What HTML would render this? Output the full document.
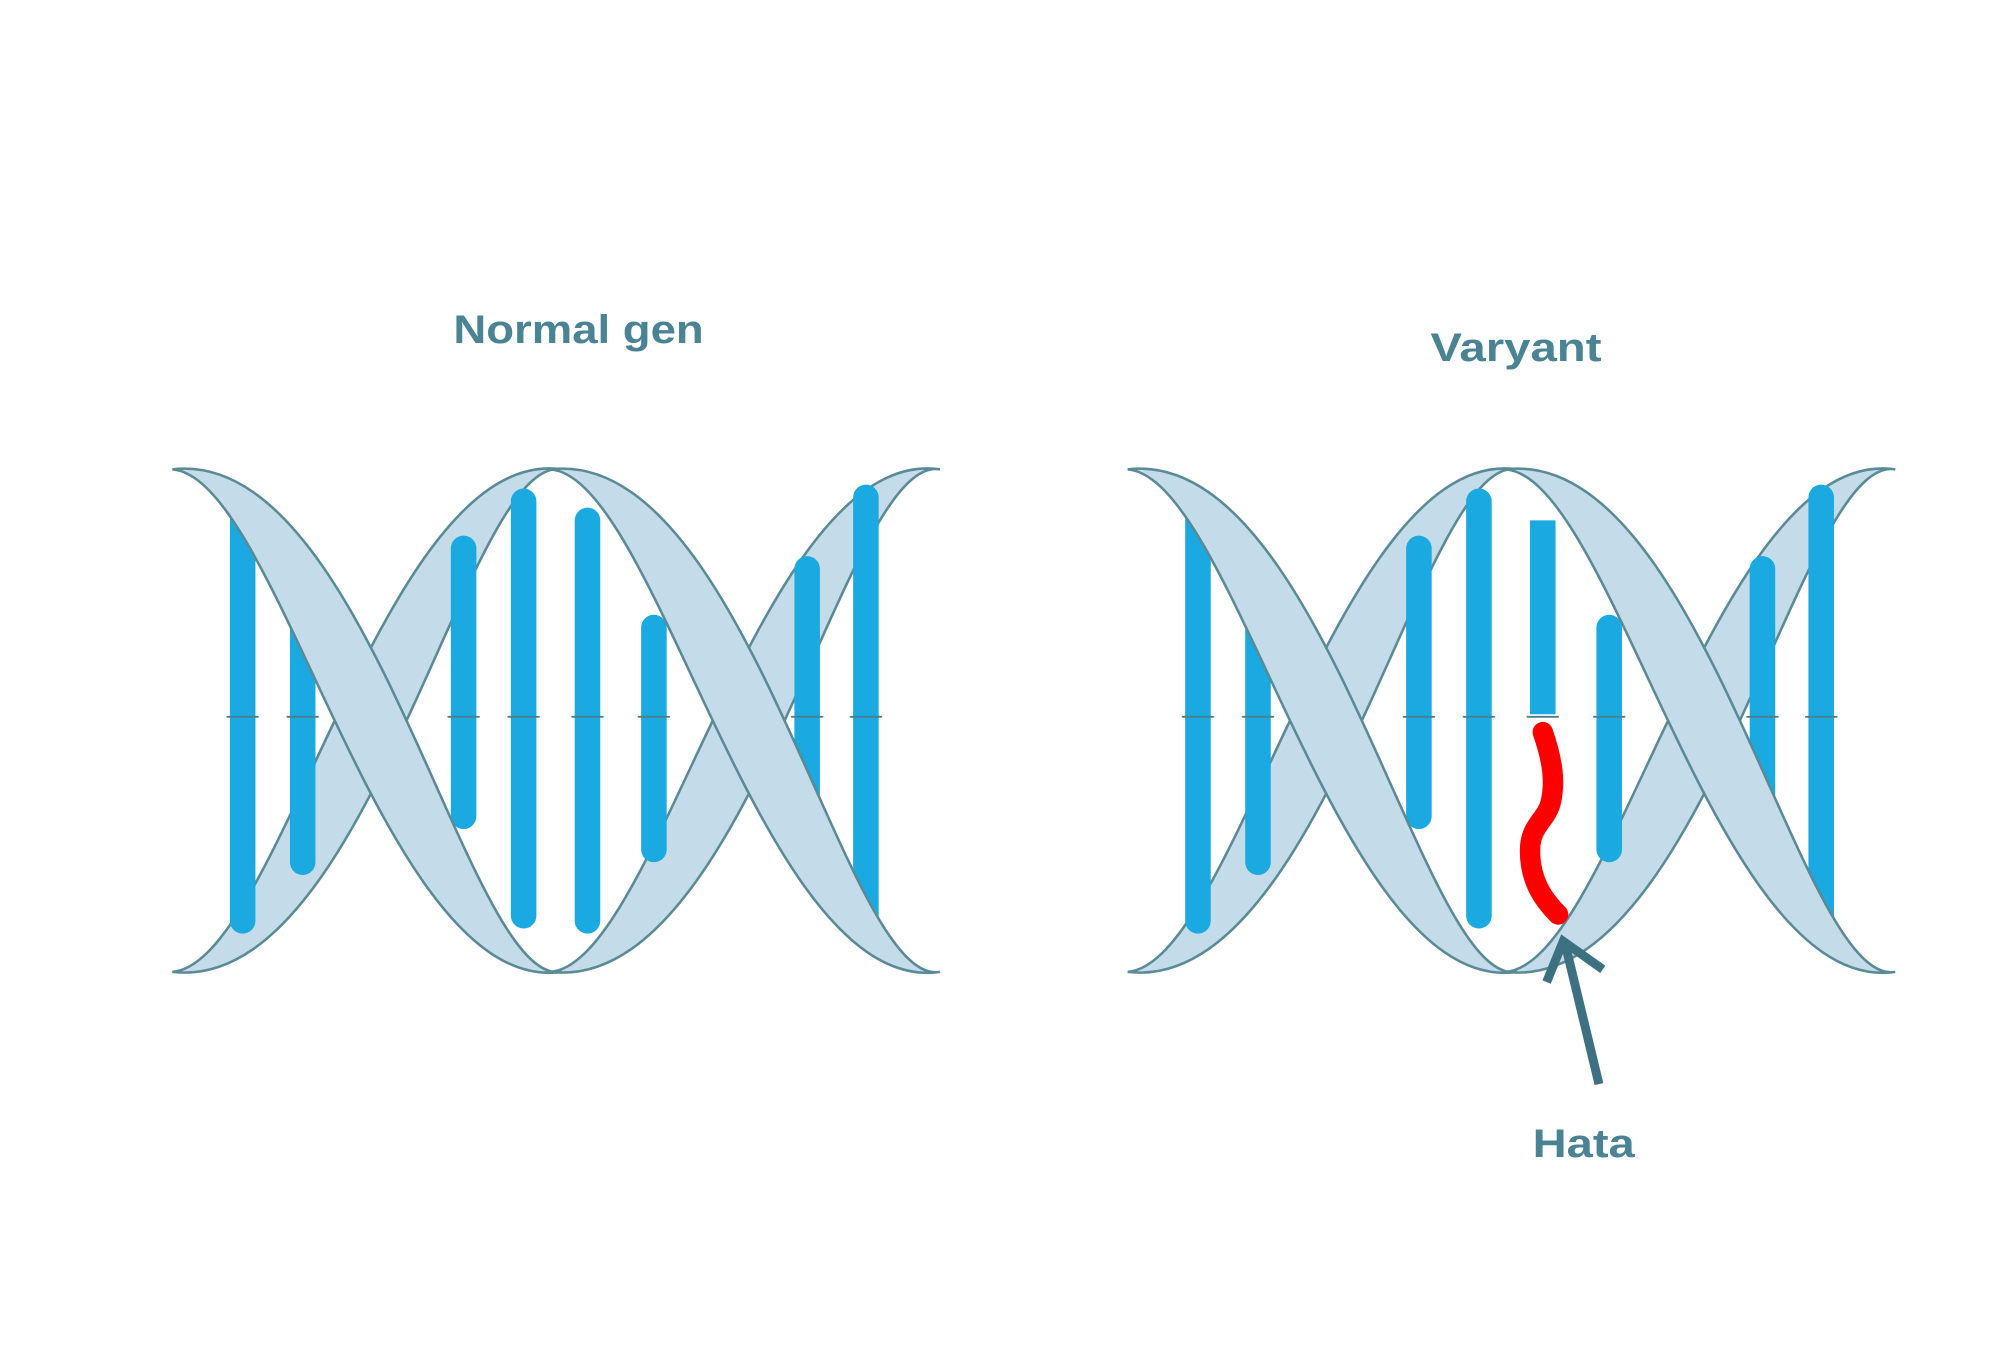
<!DOCTYPE html>
<html><head><meta charset="utf-8"><style>html,body{margin:0;padding:0;background:#fff}svg{display:block}</style></head>
<body>
<svg width="2000" height="1366" viewBox="0 0 1566 1071" preserveAspectRatio="none" xmlns="http://www.w3.org/2000/svg">
<rect width="1566" height="1071" fill="#fff"/>
<defs>
<path id="rib" d="M135,368 C290,350 365,775 440,762 C300,782 220,375 135,368 Z"/>
<g id="desc">
  <use href="#rib" fill="#c4dbea" stroke="#5a8a95" stroke-width="2"/>
  <use href="#rib" transform="translate(296,0)" fill="#c4dbea" stroke="#5a8a95" stroke-width="2"/>
</g>
<g id="asc" transform="translate(0,1130) scale(1,-1)">
  <use href="#desc"/>
</g>
<g id="ticks" stroke="#4d7f8a" stroke-width="1.5">
<line x1="178" y1="562" x2="202" y2="562"/><line x1="225" y1="562" x2="249" y2="562"/>
<line x1="351" y1="562" x2="375" y2="562"/><line x1="398" y1="562" x2="422" y2="562"/>
<line x1="448" y1="562" x2="472" y2="562"/><line x1="500" y1="562" x2="524" y2="562"/>
<line x1="620" y1="562" x2="644" y2="562"/><line x1="666" y1="562" x2="690" y2="562"/>
</g>
</defs>
<g stroke-linecap="round">
<use href="#asc"/>
<g stroke="#1aa9e0" stroke-width="20">
<line x1="190" y1="400" x2="190" y2="722"/><line x1="237" y1="475" x2="237" y2="676"/>
<line x1="363" y1="430" x2="363" y2="640"/><line x1="410" y1="393" x2="410" y2="718"/>
<line x1="460" y1="408" x2="460" y2="722"/><line x1="512" y1="492" x2="512" y2="666"/>
<line x1="632" y1="446" x2="632" y2="652"/><line x1="678" y1="390" x2="678" y2="718"/>
</g>
<use href="#ticks"/>
<use href="#desc"/>
<g transform="translate(748,0)">
<use href="#asc"/>
<g stroke="#1aa9e0" stroke-width="20">
<line x1="190" y1="400" x2="190" y2="722"/><line x1="237" y1="475" x2="237" y2="676"/>
<line x1="363" y1="430" x2="363" y2="640"/><line x1="410" y1="393" x2="410" y2="718"/>
<line x1="460" y1="408" x2="460" y2="560" stroke-linecap="butt"/><line x1="512" y1="492" x2="512" y2="666"/>
<line x1="632" y1="446" x2="632" y2="652"/><line x1="678" y1="390" x2="678" y2="718"/>
</g>
<use href="#ticks"/>
<use href="#desc"/>
</g>
<path d="M1208,574 C1216,597 1218,614 1214,630 C1210,644 1198,647 1198,667 C1198,692 1210,707 1220,717" fill="none" stroke="#ff0000" stroke-width="16"/>
<g stroke="#3d7080" stroke-width="7" fill="none">
<line x1="1252" y1="850" x2="1226" y2="742" stroke-linecap="butt"/>
<polyline points="1211,770 1224,738 1255,760" stroke-linecap="butt"/>
</g>
</g>
<g font-family="Liberation Sans, sans-serif" font-weight="bold" font-size="31" fill="#4a8494" text-anchor="middle">
<text x="453" y="269" textLength="196" lengthAdjust="spacingAndGlyphs">Normal gen</text>
<text x="1187" y="283" textLength="134" lengthAdjust="spacingAndGlyphs">Varyant</text>
<text x="1240" y="907" textLength="80" lengthAdjust="spacingAndGlyphs">Hata</text>
</g>
</svg>
</body></html>
